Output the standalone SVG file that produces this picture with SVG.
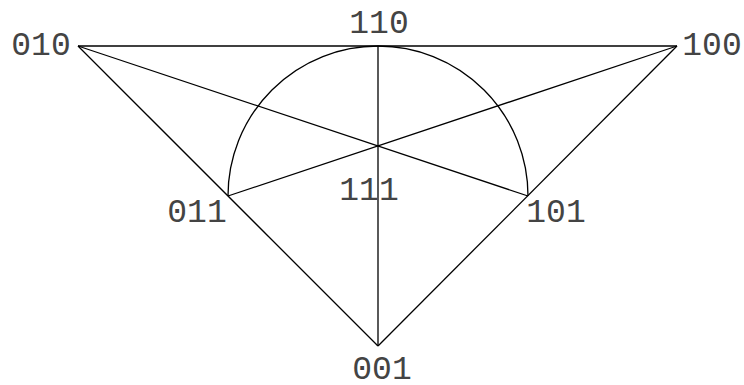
<svg xmlns="http://www.w3.org/2000/svg" width="744" height="385" viewBox="0 0 744 385">
<style>
.e{stroke:#000;stroke-width:1.3;fill:none}
.t{font-family:"Liberation Mono","DejaVu Sans Mono",monospace;font-size:33px;font-weight:300;fill:#444;text-anchor:middle}
</style>
<rect width="744" height="385" fill="#fff"/>
<g id="connectors">
<line class="e" x1="78" y1="46" x2="677" y2="46"/>
<line class="e" x1="78" y1="46" x2="378" y2="346"/>
<line class="e" x1="677" y1="46" x2="378" y2="346"/>
<line class="e" x1="378" y1="46" x2="378" y2="346"/>
<line class="e" x1="78" y1="46" x2="528" y2="196"/>
<line class="e" x1="677" y1="46" x2="228" y2="196"/>
<path class="e" d="M228,196 A150,150 0 0 1 528,196"/>
</g>
<g id="n010"><text class="t" x="41" y="55">010</text></g>
<g id="n110"><text class="t" x="379" y="33">110</text></g>
<g id="n100"><text class="t" x="712" y="55">100</text></g>
<g id="n011"><text class="t" x="197" y="222">011</text></g>
<g id="n111"><text class="t" x="369" y="200">111</text></g>
<g id="n101"><text class="t" x="556" y="222">101</text></g>
<g id="n001"><text class="t" x="382" y="379">001</text></g>
</svg>
